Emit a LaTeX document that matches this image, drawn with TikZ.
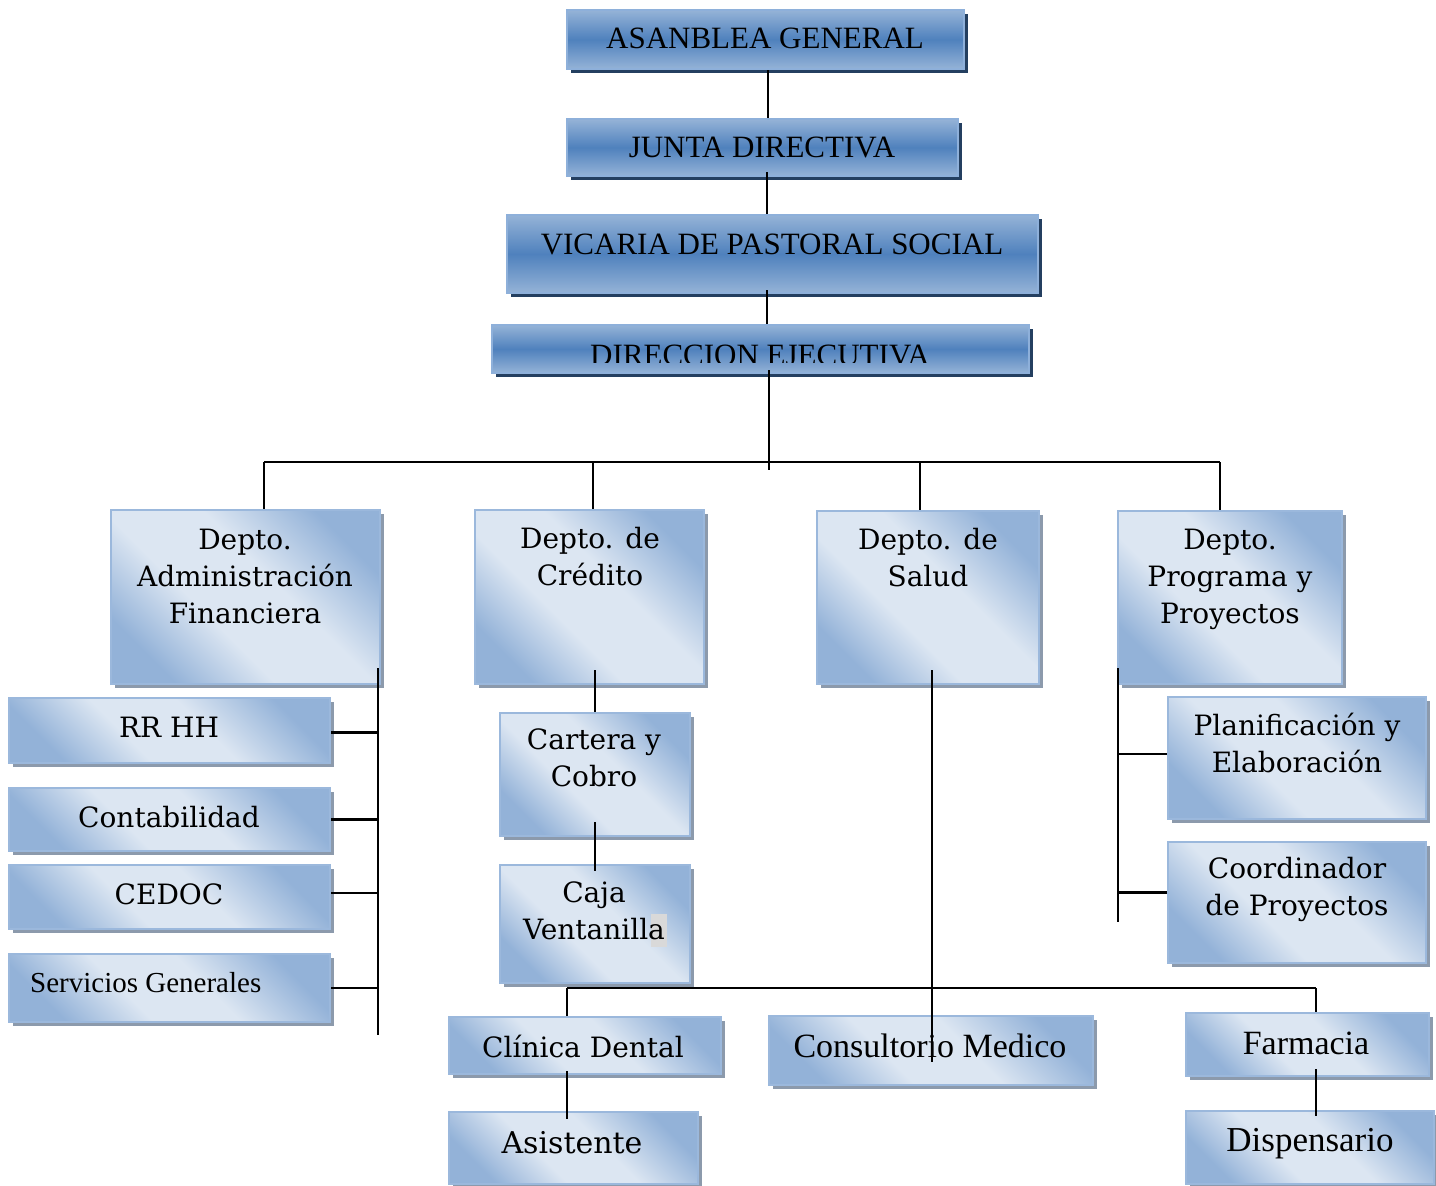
\documentclass[tikz,border=0pt]{standalone}
\usepackage{fontspec}
\setmainfont{DejaVu Serif}
\newfontfamily\tms{Liberation Serif}
\usetikzlibrary{shadows,calc}

\definecolor{topblue}{HTML}{4F81BD}
\definecolor{topltblue}{HTML}{95B3D7}
\definecolor{topedge}{HTML}{8EB0DA}
\definecolor{topshadow}{HTML}{243F60}
\definecolor{lowblue}{HTML}{93B2D8}
\definecolor{lowlight}{HTML}{DCE6F2}
\definecolor{lowedge}{HTML}{9BB8DC}
\definecolor{lowshadow}{HTML}{8C9AAC}
\definecolor{hilite}{HTML}{D9D9D9}

\pgfdeclareverticalshading{lowshade}{100bp}{color(0bp)=(lowblue); color(25bp)=(lowblue);
  color(41bp)=(lowlight); color(57bp)=(lowlight); color(75bp)=(lowblue); color(100bp)=(lowblue)}

\tikzset{
  topbox/.style={draw=topedge, line width=2pt, top color=topltblue, bottom color=topltblue,
    middle color=topblue, drop shadow={shadow xshift=4pt, shadow yshift=-4pt, fill=topshadow, opacity=1},
    anchor=north west, inner sep=0pt},
  lowbox/.style={draw=lowedge, line width=2pt, shading=lowshade, shading angle=-45,
    drop shadow={shadow xshift=4pt, shadow yshift=-4pt, fill=lowshadow, opacity=1},
    anchor=north west, inner sep=0pt},
  conn/.style={line width=2.1pt, black},
  toptext/.style={font=\tms\fontsize{31}{31}\selectfont, inner sep=0pt},
  lowtext/.style={font=\fontsize{28}{37}\selectfont, align=center, anchor=north, inner sep=0pt},
  onetext/.style={font=\fontsize{28}{37}\selectfont, inner sep=0pt},
  tmtext/.style={font=\tms\fontsize{34}{34}\selectfont, inner sep=0pt},
}

\begin{document}
\begin{tikzpicture}[x=1pt,y=-1pt]
\useasboundingbox (0,0) rectangle (1436,1186);

% ---------- top boxes ----------
\node[topbox, minimum width=397pt, minimum height=59pt] (ag) at (566,9) {};
\node[toptext] (ag-t) at (765,38) {ASANBLEA GENERAL};
\node[topbox, minimum width=391pt, minimum height=57pt] (jd) at (566,118) {};
\node[toptext] (jd-t) at (762,147) {JUNTA DIRECTIVA};
\node[topbox, minimum width=531pt, minimum height=78pt] (vps) at (506,214) {};
\node[toptext] (vps-t) at (772,244) {VICARIA DE PASTORAL SOCIAL};
\node[topbox, minimum width=537pt, minimum height=48pt] (de) at (491,324) {};
\begin{scope}
  \clip (491,324) rectangle (1028,362);
  \node[toptext] (de-t) at (760,355) {DIRECCION EJECUTIVA};
\end{scope}

% ---------- departments ----------
\node[lowbox, minimum width=269pt, minimum height=174pt] (adm) at (110,509) {};
\node[lowtext] (adm-t) at (245,529) {Depto.\\Administración\\Financiera};
\node[lowbox, minimum width=229pt, minimum height=174pt] (cred) at (474,509) {};
\node[lowtext] (cred-t) at (590,527) {Depto. de\\Crédito};
\node[lowbox, minimum width=222pt, minimum height=173pt] (sal) at (816,510) {};
\node[lowtext] (sal-t) at (928,528) {Depto. de\\Salud};
\node[lowbox, minimum width=224pt, minimum height=173pt] (prg) at (1117,510) {};
\node[lowtext] (prg-t) at (1230,529) {Depto.\\Programa y\\Proyectos};

% ---------- admin children ----------
\node[lowbox, minimum width=321pt, minimum height=65pt] (rrhh) at (8,697) {};
\node[onetext] (rrhh-t) at (169,727) {RR HH};
\node[lowbox, minimum width=321pt, minimum height=63pt] (cont) at (8,787) {};
\node[onetext] (cont-t) at (169,817) {Contabilidad};
\node[lowbox, minimum width=321pt, minimum height=64pt] (cedoc) at (8,864) {};
\node[onetext] (cedoc-t) at (169,894) {CEDOC};
\node[lowbox, minimum width=321pt, minimum height=68pt] (serv) at (8,953) {};
\node[font=\tms\fontsize{29}{29}\selectfont, inner sep=0pt, anchor=west] (serv-t) at (30,983) {Servicios Generales};

% ---------- credit children ----------
\node[lowbox, minimum width=190pt, minimum height=123pt] (cart) at (499,712) {};
\node[lowtext] (cart-t) at (594,729) {Cartera y\\Cobro};
\node[lowbox, minimum width=190pt, minimum height=118pt] (caja) at (499,864) {};
\fill[hilite] (651,914) rectangle (667,947);
\node[lowtext] (caja-t) at (594,882) {Caja\\Ventanilla};

% ---------- programa children ----------
\node[lowbox, minimum width=258pt, minimum height=122pt] (plan) at (1167,696) {};
\node[lowtext] (plan-t) at (1297,713) {Planificación y\\Elaboración};
\node[lowbox, minimum width=258pt, minimum height=121pt] (coord) at (1167,841) {};
\node[lowtext] (coord-t) at (1297,857) {Coordinador\\de Proyectos};

% ---------- salud children ----------
\node[lowbox, minimum width=272pt, minimum height=57pt] (clin) at (448,1016) {};
\node[onetext] (clin-t) at (583,1046) {Clínica Dental};
\node[lowbox, minimum width=249pt, minimum height=72pt] (asis) at (448,1111) {};
\node[onetext, font=\fontsize{30}{30}\selectfont] (asis-t) at (572,1143) {Asistente};
\node[lowbox, minimum width=324pt, minimum height=69pt] (cons) at (768,1015) {};
\node[tmtext] (cons-t) at (930,1046) {Consultorio Medico};
\node[lowbox, minimum width=243pt, minimum height=63pt] (farm) at (1185,1012) {};
\node[tmtext] (farm-t) at (1306,1043) {Farmacia};
\node[lowbox, minimum width=248pt, minimum height=73pt] (disp) at (1185,1110) {};
\node[tmtext, font=\tms\fontsize{35}{35}\selectfont] (disp-t) at (1310,1144) {Dispensario};

% ---------- connectors ----------
\coordinate (spine) at (768,0);
\coordinate (bus) at (0,462);
\draw[conn] (ag.south -| spine) -- (jd.north -| spine);
\draw[conn] ($(jd.south -| spine)+(-1,-5)$) -- ($(vps.north -| spine)+(-1,0)$);
\draw[conn] ($(vps.south -| spine)+(-1,-4)$) -- ($(de.north -| spine)+(-1,0)$);
\draw[conn] ($(de.south -| spine)+(1,-4)$) -- ($(spine |- bus)+(1,8)$);

\coordinate (b1) at (264,462);
\coordinate (b2) at (593,462);
\coordinate (b3) at (920,462);
\coordinate (b4) at (1220,462);
\draw[conn] (b1) -- (b4);
\draw[conn] (b1) -- (b1 |- adm.north);
\draw[conn] (b2) -- (b2 |- cred.north);
\draw[conn] (b3) -- (b3 |- sal.north);
\draw[conn] (b4) -- (b4 |- prg.north);

% admin bus
\coordinate (atop) at (378,668);
\coordinate (abot) at (378,1035);
\draw[conn] (atop) -- (abot);
\draw[conn] ($(rrhh.east)+(0,2)$) -- ($(rrhh.east -| atop)+(0,2)$);
\draw[conn] (cont.east) -- (cont.east -| atop);
\draw[conn] ($(cedoc.east)+(0,-4)$) -- ($(cedoc.east -| atop)+(0,-4)$);
\draw[conn] (serv.east) -- (serv.east -| atop);

% credit chain
\draw[conn] ($(cred.south -| cart.north)+(0,-15)$) -- (cart.north);
\draw[conn] ($(cart.south)+(0,-15)$) -- ($(caja.north)+(0,7)$);

% programa bus
\coordinate (ptop) at (1118,668);
\coordinate (pbot) at (1118,922);
\draw[conn] (ptop) -- (pbot);
\draw[conn] ($(plan.west)+(0,-4)$) -- ($(plan.west -| ptop)+(0,-4)$);
\draw[conn] ($(coord.west)+(0,-10)$) -- ($(coord.west -| ptop)+(0,-10)$);

% salud
\coordinate (sx) at (932,0);
\coordinate (cl) at (567,988);
\coordinate (fa) at (1316,988);
\draw[conn] ($(sal.south -| sx)+(0,-15)$) -- ($(cons.north -| sx)+(0,47)$);
\draw[conn] (cl) -- (fa);
\draw[conn] (cl) -- (cl |- clin.north);
\draw[conn] (fa) -- (fa |- farm.north);
\draw[conn] ($(cl |- clin.south)+(0,-4)$) -- ($(cl |- asis.north)+(0,8)$);
\draw[conn] ($(fa |- farm.south)+(0,-8)$) -- ($(fa |- disp.north)+(0,6)$);
\end{tikzpicture}
\end{document}
